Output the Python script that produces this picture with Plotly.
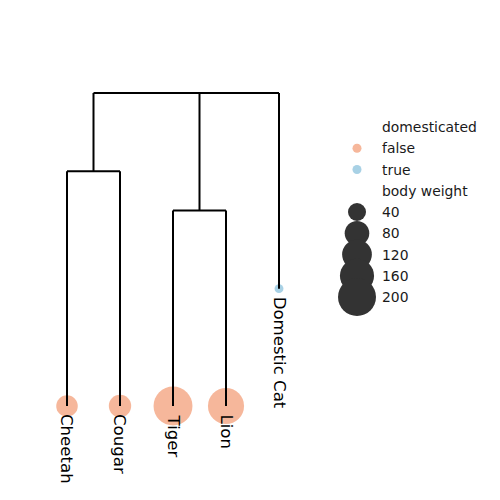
import plotly.graph_objects as go

# leaves of the tree (left to right)
leaves = ['Cheetah', 'Cougar', 'Tiger', 'Lion', 'Domestic Cat']
leaf_depth = [8, 8, 8, 8, 5]
domesticated = [False, False, False, False, True]
body_weight = [60, 65, 210, 180, 5]

# internal nodes: name -> (depth, children)
nodes = {
    'root': (0, ['cc', 'tl', 'Domestic Cat']),
    'cc': (2, ['Cheetah', 'Cougar']),
    'tl': (3, ['Tiger', 'Lion']),
}

legend_colors = ['false', 'true']
legend_weights = [40, 80, 120, 160, 200]

color_map = {False: 'rgba(244,165,130,0.8)', True: 'rgba(146,197,222,0.8)'}
legend_color_map = {'false': color_map[False], 'true': color_map[True]}


def size_px(w):
    # area-ish size scale
    return (7 * w + 44) ** 0.5


# positions of every node
pos = {name: (i, leaf_depth[i]) for i, name in enumerate(leaves)}


def place(name):
    if name in pos:
        return pos[name]
    depth, kids = nodes[name]
    xs = [place(k)[0] for k in kids]
    pos[name] = ((min(xs) + max(xs)) / 2, depth)
    return pos[name]


place('root')

lx, ly = [], []
for name, (depth, kids) in nodes.items():
    xs = [pos[k][0] for k in kids]
    lx += [min(xs), max(xs), None]
    ly += [depth, depth, None]
    for k in kids:
        lx += [pos[k][0], pos[k][0], None]
        ly += [depth, pos[k][1], None]

fig = go.Figure()

fig.add_trace(go.Scatter(
    x=list(range(len(leaves))), y=leaf_depth, mode='markers',
    marker=dict(size=[size_px(w) for w in body_weight], opacity=1,
                color=[color_map[d] for d in domesticated], line=dict(width=0)),
    hoverinfo='text', text=leaves,
))

fig.add_trace(go.Scatter(
    x=lx, y=ly, mode='lines', line=dict(color='black', width=2),
    hoverinfo='skip',
))

for i, name in enumerate(leaves):
    fig.add_annotation(
        x=i, y=leaf_depth[i], text=name, textangle=90, showarrow=False,
        xanchor='center', yanchor='top', yshift=-6,
        font=dict(family='DejaVu Sans', size=16.6, color='black'),
    )

# page body has an 8px margin, so the plot starts 8px in
off = 8

# hand-drawn legend on a pixel-like overlay axis
row = 21.25
top = 127 - off
leg_x = 357 - off
text_x = 380 - off
rows = ['domesticated'] + legend_colors + ['body weight'] + [str(w) for w in legend_weights]
row_y = [top + i * row for i in range(len(rows))]

fig.add_trace(go.Scatter(
    x=[leg_x] * len(legend_weights), y=row_y[4:], mode='markers',
    marker=dict(size=[size_px(w) for w in legend_weights], color='#333333',
                opacity=1, line=dict(width=0)),
    xaxis='x2', yaxis='y2', hoverinfo='skip',
))
fig.add_trace(go.Scatter(
    x=[leg_x] * len(legend_colors), y=row_y[1:3], mode='markers',
    marker=dict(size=9, color=[legend_color_map[c] for c in legend_colors],
                opacity=1, line=dict(width=0)),
    xaxis='x2', yaxis='y2', hoverinfo='skip',
))
for txt, y in zip(rows, row_y):
    fig.add_annotation(
        x=text_x, y=y, xref='x2', yref='y2', text=txt, showarrow=False,
        xanchor='left', yanchor='middle',
        font=dict(family='DejaVu Sans', size=13.9, color='#1a1a1a'),
    )

px_x = 53.0
px_y = 313 / 8
x0 = 67 - off
y0 = 93 - off
fig.update_layout(
    width=500, height=500,
    margin=dict(l=0, r=0, t=0, b=0),
    plot_bgcolor='white', paper_bgcolor='white',
    showlegend=False,
    xaxis=dict(range=[-x0 / px_x, (500 - x0) / px_x], visible=False, domain=[0, 1]),
    yaxis=dict(range=[(500 - y0) / px_y, -y0 / px_y], visible=False, domain=[0, 1]),
    xaxis2=dict(range=[0, 500], visible=False, overlaying='x', anchor='y2'),
    yaxis2=dict(range=[500, 0], visible=False, overlaying='y', anchor='x2'),
)

fig.write_html('out.html')
